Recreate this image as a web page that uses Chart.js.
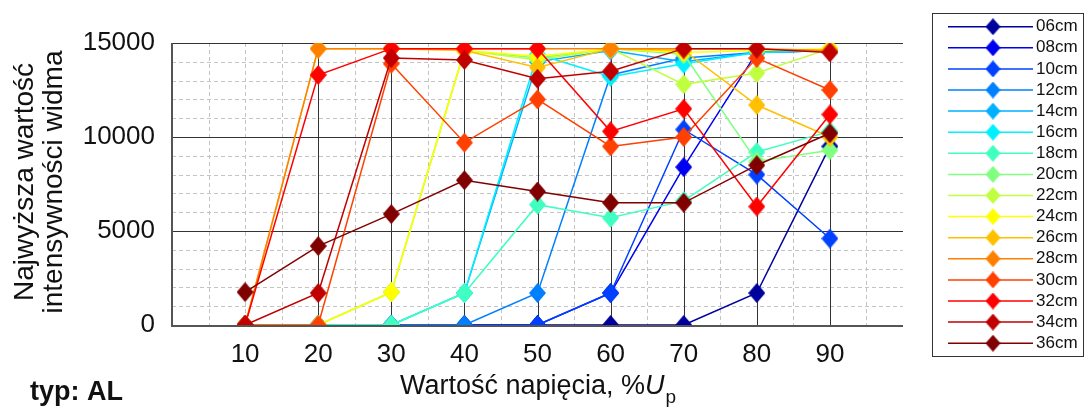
<!DOCTYPE html>
<html lang="pl">
<head>
<meta charset="UTF-8">
<title>Najwyższa wartość intensywności widma</title>
<script src="https://cdn.jsdelivr.net/npm/chart.js"></script>
<style>
    body { margin: 0; background: #fff; }
    #wrap { width: 1088px; height: 410px; }
</style>
</head>
<body>
<div id="wrap"><canvas id="chart" width="1088" height="410"></canvas></div>
<script>
// napięcie w %Up (oś X)
const napiecie = [10, 20, 30, 40, 50, 60, 70, 80, 90];
const odleglosci = ['06cm', '08cm', '10cm', '12cm', '14cm', '16cm', '18cm', '20cm',
                    '22cm', '24cm', '26cm', '28cm', '30cm', '32cm', '34cm', '36cm'];
// paleta "jet"
const kolory = ['#00009c', '#0000f0', '#0040ff', '#0080ff', '#00b0ff', '#00f0ff', '#40ffc0', '#80ff80',
                '#c0ff40', '#ffff00', '#ffc000', '#ff8000', '#ff4000', '#ff0000', '#c00000', '#800000'];
const ticksY = [0, 5000, 10000, 15000];

const s06 = [0, 0, 0, 0, 0, 0, 0, 1700, 9500];
const s08 = [0, 0, 0, 0, 0, 1700, 8400, 14500, 14600];
const s10 = [0, 0, 0, 0, 0, 1700, 10400, 8000, 4600];
const s12 = [0, 0, 0, 0, 1700, 13300, 14200, 14500, 14600];
const s14 = [0, 0, 0, 1700, 14000, 14600, 14000, 14500, 14600];
const s16 = [0, 0, 0, 1700, 14400, 13200, 13900, 14500, 14600];
const s18 = [0, 0, 0, 1700, 6400, 5700, 6600, 9200, 10300];
const s20 = [0, 0, 1750, 14600, 14200, 14700, 14400, 8700, 9300];
const s22 = [0, 0, 1750, 14600, 14100, 14700, 12800, 13400, 14700];
const s24 = [0, 0, 1750, 14600, 14300, 14700, 14500, 14600, 14700];
const s26 = [0, 14700, 14700, 14600, 13700, 14700, 14600, 11700, 10000];
const s28 = [0, 14700, 14700, 14700, 14700, 14700, 14700, 14700, 14600];
const s30 = [0, 0, 13900, 9700, 12000, 9500, 10000, 14200, 12500];
const s32 = [0, 13300, 14700, 14700, 14700, 10300, 11500, 6300, 11200];
const s34 = [0, 1700, 14200, 14100, 13100, 13500, 14700, 14700, 14500];
const s36 = [1750, 4200, 5900, 7700, 7100, 6500, 6500, 8500, 10200];
const serie = [s06, s08, s10, s12, s14, s16, s18, s20, s22, s24, s26, s28, s30, s32, s34, s36];

const FONT = '"Liberation Sans", Arial, sans-serif';

// romb jako obrazek znacznika
function romb(kolor, w, h) {
    const c = document.createElement('canvas');
    c.width = w; c.height = h;
    const g = c.getContext('2d');
    g.fillStyle = kolor;
    g.beginPath();
    g.moveTo(w / 2, 0); g.lineTo(w, h / 2); g.lineTo(w / 2, h); g.lineTo(0, h / 2);
    g.closePath();
    g.fill();
    return c;
}

const znaczniki = kolory.map(k => romb(k, 17, 20));
const znacznikiLegendy = kolory.map(k => romb(k, 15, 17));

const datasets = serie.map((s, i) => ({
    label: odleglosci[i],
    data: s.map((v, j) => ({ x: napiecie[j], y: v })),
    borderColor: kolory[i],
    backgroundColor: kolory[i],
    borderWidth: 1.5,
    pointStyle: znaczniki[i],
    pointRadius: 9,
    tension: 0,
    order: serie.length - i
}));

// siatka: kropkowana pomocnicza + ciągła główna
const siatka = {
    id: 'siatka',
    beforeDatasetsDraw(chart) {
        const { ctx, chartArea: a, scales: { x, y } } = chart;
        const px = v => Math.round(x.getPixelForValue(v)) + 0.5;
        const py = v => Math.round(y.getPixelForValue(v)) + 0.5;
        ctx.save();
        ctx.lineWidth = 1;
        ctx.strokeStyle = '#c4c4c4';
        ctx.setLineDash([4, 3]);
        ctx.beginPath();
        for (let v = 5; v < 100; v += 5) {
            if (v % 10 === 0 && v >= 20) continue;
            ctx.moveTo(px(v), a.top); ctx.lineTo(px(v), a.bottom);
        }
        for (let v = 1000; v < 15000; v += 1000) {
            if (v % 5000 === 0) continue;
            ctx.moveTo(a.left, py(v)); ctx.lineTo(a.right, py(v));
        }
        ctx.stroke();
        ctx.setLineDash([]);
        ctx.strokeStyle = '#333';
        ctx.beginPath();
        for (let v = 20; v <= 90; v += 10) {
            ctx.moveTo(px(v), a.top); ctx.lineTo(px(v), a.bottom);
        }
        for (const v of ticksY.slice(1)) {
            ctx.moveTo(a.left, py(v)); ctx.lineTo(a.right, py(v));
        }
        ctx.stroke();
        ctx.strokeStyle = '#555';
        ctx.lineWidth = 2;
        ctx.beginPath();
        ctx.moveTo(a.left, a.top); ctx.lineTo(a.left, a.bottom + 1); ctx.lineTo(a.right, a.bottom + 1);
        ctx.stroke();
        ctx.restore();
    }
};

// opisy osi, legenda, podpis typu
const opisy = {
    id: 'opisy',
    afterDraw(chart) {
        const { ctx, chartArea: a } = chart;
        ctx.save();
        ctx.fillStyle = '#111';

        // opis osi Y (dwie linie)
        ctx.save();
        ctx.translate(0, (a.top + a.bottom) / 2 - 2);
        ctx.rotate(-Math.PI / 2);
        ctx.font = '28px ' + FONT;
        ctx.textAlign = 'center';
        ctx.textBaseline = 'middle';
        ctx.fillText('Najwyższa wartość', 0, 25);
        ctx.fillText('intensywności widma', 0, 54);
        ctx.restore();

        // opis osi X z indeksem dolnym
        const t1 = 'Wartość napięcia, %';
        ctx.font = '27px ' + FONT;
        const w1 = ctx.measureText(t1).width;
        ctx.font = 'italic 27px ' + FONT;
        const wU = ctx.measureText('U').width;
        ctx.font = '19px ' + FONT;
        const wp = ctx.measureText('p').width;
        let x0 = (a.left + a.right) / 2 - (w1 + wU + wp) / 2;
        ctx.textAlign = 'left';
        ctx.textBaseline = 'alphabetic';
        ctx.font = '27px ' + FONT;
        ctx.fillText(t1, x0, 394);
        ctx.font = 'italic 27px ' + FONT;
        ctx.fillText('U', x0 + w1, 394);
        ctx.font = '19px ' + FONT;
        ctx.fillText('p', x0 + w1 + wU + 1, 403);

        ctx.font = 'bold 27px ' + FONT;
        ctx.fillText('typ: AL', 30, 400);

        // legenda
        const lx = 932, ly = 13, lw = 151, lh = 343;
        ctx.fillStyle = '#fff';
        ctx.fillRect(lx, ly, lw, lh);
        ctx.strokeStyle = '#333';
        ctx.lineWidth = 1;
        ctx.strokeRect(lx + 0.5, ly + 0.5, lw, lh);
        ctx.font = '17px ' + FONT;
        ctx.textBaseline = 'middle';
        odleglosci.forEach((nazwa, i) => {
            const yy = 26.7 + i * 21.1;
            ctx.strokeStyle = kolory[i];
            ctx.lineWidth = 1.5;
            ctx.beginPath();
            ctx.moveTo(948, yy); ctx.lineTo(1033, yy);
            ctx.stroke();
            const m = znacznikiLegendy[i];
            ctx.drawImage(m, 993 - m.width / 2, yy - m.height / 2);
            ctx.fillStyle = '#111';
            ctx.fillText(nazwa, 1036, yy);
        });
        ctx.restore();
    }
};

new Chart(document.getElementById('chart'), {
    type: 'line',
    data: { datasets },
    options: {
        responsive: false,
        animation: false,
        devicePixelRatio: 1,
        layout: { padding: { left: 0, right: 185, top: 43, bottom: 0 } },
        plugins: { legend: { display: false }, tooltip: { enabled: false } },
        elements: { line: { fill: false } },
        scales: {
            x: {
                type: 'linear',
                min: 0, max: 100,
                afterFit(s) { s.height = 85; },
                grid: { display: false },
                border: { display: false },
                ticks: {
                    stepSize: 10,
                    padding: 6,
                    color: '#111',
                    font: { family: FONT, size: 26 },
                    callback: v => (v > 0 && v < 100) ? String(v) : ''
                }
            },
            y: {
                min: 0, max: 15000,
                afterFit(s) { s.width = 172; },
                grid: { display: false },
                border: { display: false },
                afterBuildTicks(s) { s.ticks = ticksY.map(v => ({ value: v })); },
                ticks: {
                    padding: 9,
                    color: '#111',
                    font: { family: FONT, size: 26 },
                    callback: v => String(v)
                }
            }
        }
    },
    plugins: [siatka, opisy]
});
</script>
</body>
</html>
